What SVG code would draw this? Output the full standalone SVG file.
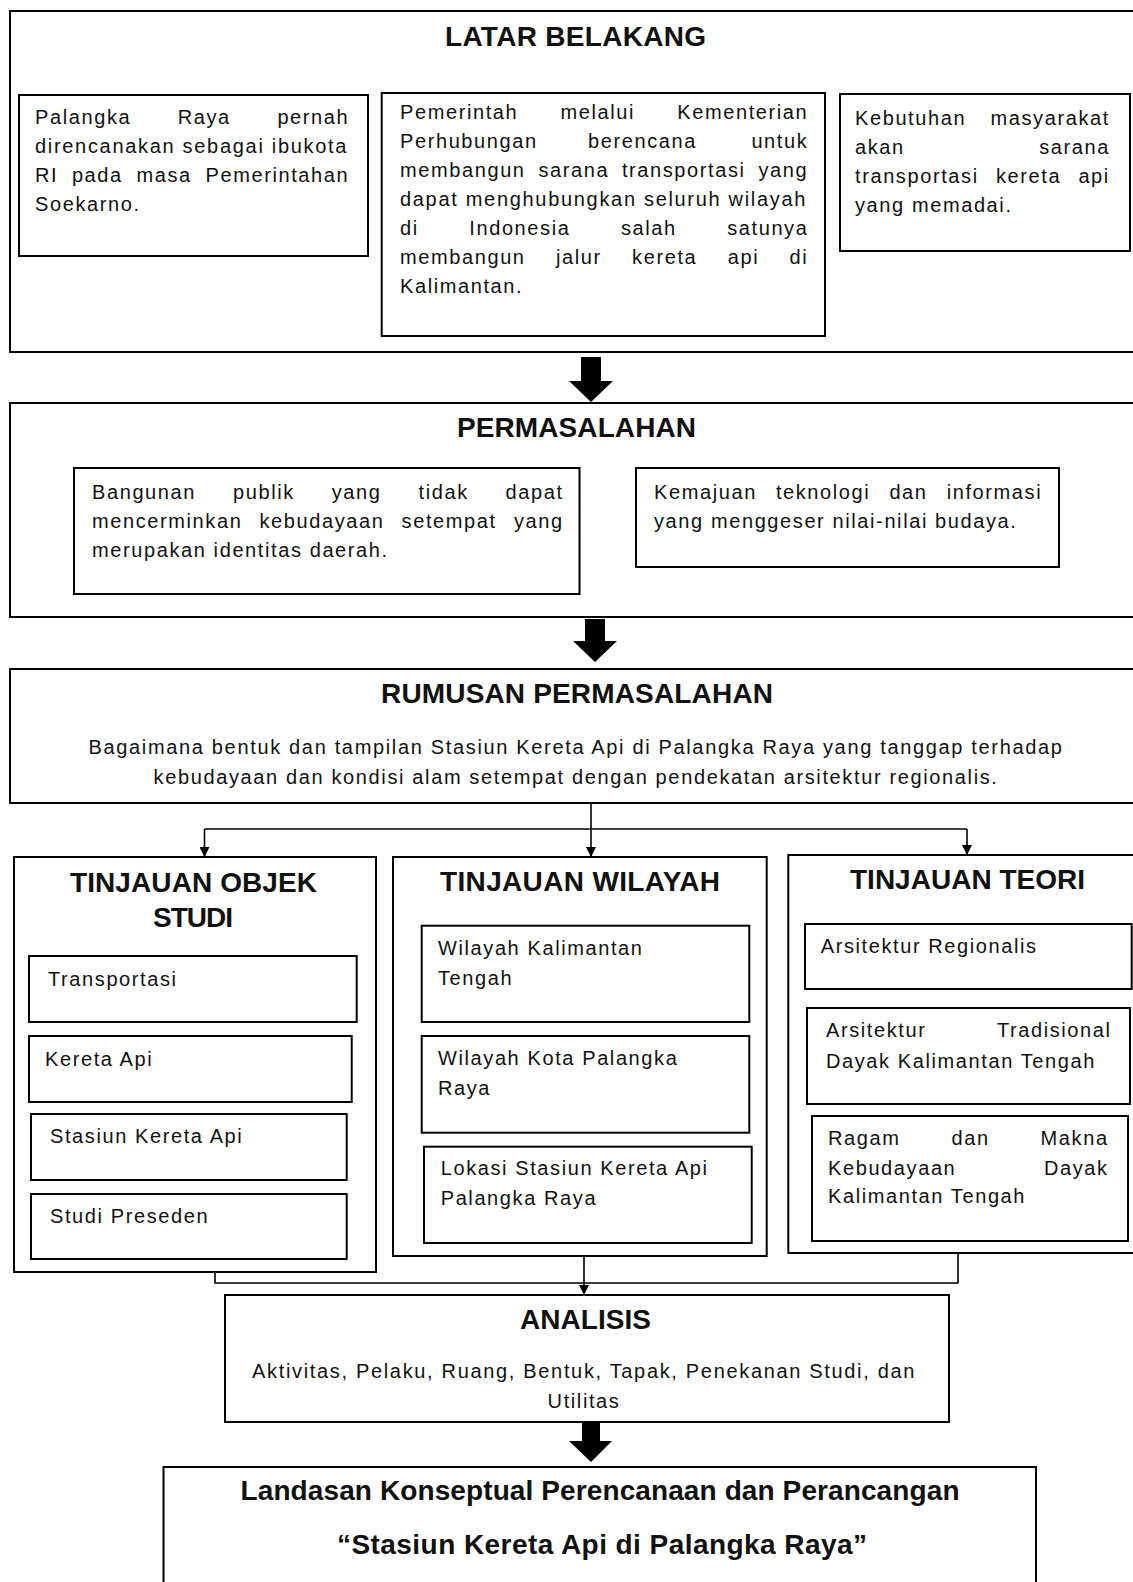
<svg xmlns="http://www.w3.org/2000/svg" width="1133" height="1582" viewBox="0 0 1133 1582">
<defs>
<style>
.box{fill:none;stroke:#000;stroke-width:2}
.t{font-family:"Liberation Sans",Arial,sans-serif;font-size:20px;letter-spacing:1.6px;fill:#111}
.h{font-family:"Liberation Sans",Arial,sans-serif;font-size:28px;font-weight:bold;fill:#111;text-anchor:middle}
.c{text-anchor:middle}
.conn{fill:none;stroke:#000;stroke-width:1.6}
.big{fill:#000}
</style>
<marker id="ah" markerUnits="userSpaceOnUse" markerWidth="10" markerHeight="10" viewBox="0 0 10 10" refX="10" refY="5" orient="auto">
<path d="M0,0 L10,5 L0,10 z" fill="#000"/>
</marker>
</defs>
<rect width="1133" height="1582" fill="#fff"/>

<g id="latar-belakang">
<rect class="box" x="10" y="11" width="1130" height="341"/>
<text class="h" x="575.5" y="45.5" textLength="261">LATAR BELAKANG</text>
</g>
<g id="latar-1">
<rect class="box" x="19" y="95" width="349" height="161"/>
<text class="t" y="124"><tspan x="35">Palangka</tspan><tspan x="177.7">Raya</tspan><tspan x="277.4">pernah</tspan></text>
<text class="t" x="35" y="153" textLength="313">direncanakan sebagai ibukota</text>
<text class="t" y="182"><tspan x="35">RI</tspan><tspan x="71.9">pada</tspan><tspan x="136.5">masa</tspan><tspan x="205.5">Pemerintahan</tspan></text>
<text class="t" x="35" y="211">Soekarno.</text>
</g>
<g id="latar-2">
<rect class="box" x="381.7" y="93" width="443.3" height="243"/>
<text class="t" y="119"><tspan x="400">Pemerintah</tspan><tspan x="560.5">melalui</tspan><tspan x="677.3">Kementerian</tspan></text>
<text class="t" y="148"><tspan x="400">Perhubungan</tspan><tspan x="588.1">berencana</tspan><tspan x="751.4">untuk</tspan></text>
<text class="t" y="177"><tspan x="400">membangun</tspan><tspan x="538.4">sarana</tspan><tspan x="621.9">transportasi</tspan><tspan x="758.4">yang</tspan></text>
<text class="t" x="400" y="206" textLength="407">dapat menghubungkan seluruh wilayah</text>
<text class="t" y="235"><tspan x="400">di</tspan><tspan x="469.3">Indonesia</tspan><tspan x="620.9">salah</tspan><tspan x="727.2">satunya</tspan></text>
<text class="t" y="264"><tspan x="400">membangun</tspan><tspan x="556">jalur</tspan><tspan x="632.1">kereta</tspan><tspan x="727.7">api</tspan><tspan x="789.6">di</tspan></text>
<text class="t" x="400" y="293">Kalimantan.</text>
</g>
<g id="latar-3">
<rect class="box" x="840" y="94" width="290" height="157"/>
<text class="t" y="125"><tspan x="855">Kebutuhan</tspan><tspan x="990.5">masyarakat</tspan></text>
<text class="t" y="154"><tspan x="855">akan</tspan><tspan x="1039.2">sarana</tspan></text>
<text class="t" y="183"><tspan x="855">transportasi</tspan><tspan x="996">kereta</tspan><tspan x="1078.4">api</tspan></text>
<text class="t" x="855" y="212">yang memadai.</text>
</g>

<g id="permasalahan">
<rect class="box" x="10" y="403" width="1130" height="214"/>
<text class="h" x="576.5" y="437" textLength="239">PERMASALAHAN</text>
</g>
<g id="permasalahan-1">
<rect class="box" x="74" y="468" width="505.5" height="126"/>
<text class="t" y="499"><tspan x="92">Bangunan</tspan><tspan x="233">publik</tspan><tspan x="331.7">yang</tspan><tspan x="418.5">tidak</tspan><tspan x="505.6">dapat</tspan></text>
<text class="t" y="528"><tspan x="92">mencerminkan</tspan><tspan x="259.5">kebudayaan</tspan><tspan x="401.6">setempat</tspan><tspan x="513.9">yang</tspan></text>
<text class="t" x="92" y="557">merupakan identitas daerah.</text>
</g>
<g id="permasalahan-2">
<rect class="box" x="636" y="468" width="423" height="99"/>
<text class="t" y="499"><tspan x="654">Kemajuan</tspan><tspan x="775.9">teknologi</tspan><tspan x="889.4">dan</tspan><tspan x="946.7">informasi</tspan></text>
<text class="t" x="654" y="528">yang menggeser nilai-nilai budaya.</text>
</g>

<g id="rumusan-permasalahan">
<rect class="box" x="10" y="669" width="1130" height="134"/>
<text class="h" x="577" y="703" textLength="392">RUMUSAN PERMASALAHAN</text>
<text class="t c" x="576" y="754" textLength="975">Bagaimana bentuk dan tampilan Stasiun Kereta Api di Palangka Raya yang tanggap terhadap</text>
<text class="t c" x="576" y="784" textLength="845">kebudayaan dan kondisi alam setempat dengan pendekatan arsitektur regionalis.</text>
</g>

<g id="tinjauan-objek-studi">
<rect class="box" x="14" y="857" width="362" height="415"/>
<text class="h" x="193.5" y="892" textLength="247">TINJAUAN OBJEK</text>
<text class="h" x="193" y="927" textLength="80">STUDI</text>
<rect class="box" x="29" y="956" width="327.7" height="66"/>
<text class="t" x="48" y="986">Transportasi</text>
<rect class="box" x="29" y="1036" width="322.7" height="66"/>
<text class="t" x="45" y="1066">Kereta Api</text>
<rect class="box" x="31" y="1114" width="315.7" height="66"/>
<text class="t" x="50" y="1143">Stasiun Kereta Api</text>
<rect class="box" x="31" y="1194" width="315.7" height="65"/>
<text class="t" x="50" y="1223">Studi Preseden</text>
</g>

<g id="tinjauan-wilayah">
<rect class="box" x="393" y="857" width="373.7" height="399"/>
<text class="h" x="580" y="891" textLength="280">TINJAUAN WILAYAH</text>
<rect class="box" x="421.7" y="925.7" width="327.6" height="96.3"/>
<text class="t" x="438" y="955">Wilayah Kalimantan</text>
<text class="t" x="438" y="985">Tengah</text>
<rect class="box" x="421.7" y="1036" width="327.6" height="96.7"/>
<text class="t" x="438" y="1065">Wilayah Kota Palangka</text>
<text class="t" x="438" y="1095">Raya</text>
<rect class="box" x="424" y="1146.7" width="327.7" height="96.3"/>
<text class="t" x="440.7" y="1175">Lokasi Stasiun Kereta Api</text>
<text class="t" x="440.7" y="1205">Palangka Raya</text>
</g>

<g id="tinjauan-teori">
<rect class="box" x="788.3" y="855" width="352" height="398"/>
<text class="h" x="967.5" y="889" textLength="235">TINJAUAN TEORI</text>
<rect class="box" x="805" y="924" width="326.7" height="65"/>
<text class="t" x="820.7" y="953">Arsitektur Regionalis</text>
<rect class="box" x="807" y="1008" width="323" height="96"/>
<text class="t" y="1037"><tspan x="826">Arsitektur</tspan><tspan x="996.9">Tradisional</tspan></text>
<text class="t" x="826" y="1068">Dayak Kalimantan Tengah</text>
<rect class="box" x="812" y="1116" width="316" height="125"/>
<text class="t" y="1145"><tspan x="828">Ragam</tspan><tspan x="951.5">dan</tspan><tspan x="1040.6">Makna</tspan></text>
<text class="t" y="1175"><tspan x="828">Kebudayaan</tspan><tspan x="1043.9">Dayak</tspan></text>
<text class="t" x="828" y="1203">Kalimantan Tengah</text>
</g>

<g id="analisis">
<rect class="box" x="225" y="1295" width="724" height="127"/>
<text class="h" x="585.5" y="1329" textLength="131">ANALISIS</text>
<text class="t c" x="584" y="1378" textLength="664">Aktivitas, Pelaku, Ruang, Bentuk, Tapak, Penekanan Studi, dan</text>
<text class="t c" x="584" y="1408">Utilitas</text>
</g>

<g id="landasan-konseptual">
<rect class="box" x="163.5" y="1467" width="872.5" height="130"/>
<text class="h" x="600" y="1500" textLength="719">Landasan Konseptual Perencanaan dan Perancangan</text>
<text class="h" x="602" y="1554" textLength="530">“Stasiun Kereta Api di Palangka Raya”</text>
</g>

<g id="connectors">
<polygon class="big" points="581,357 601,357 601,381 613,381 591,402 569,381 581,381"/>
<polygon class="big" points="585,619 605,619 605,641 617,641 595,662 573,641 585,641"/>
<polygon class="big" points="582,1423 600,1423 600,1441 612,1441 591,1462 569,1441 582,1441"/>
<path class="conn" d="M591,803 V857" marker-end="url(#ah)"/>
<path class="conn" d="M204.5,829 H967"/>
<path class="conn" d="M204.5,829 V857" marker-end="url(#ah)"/>
<path class="conn" d="M967,829 V855" marker-end="url(#ah)"/>
<path class="conn" d="M215,1272 V1283 H958 V1253"/>
<path class="conn" d="M584,1256 V1295" marker-end="url(#ah)"/>
</g>
</svg>
